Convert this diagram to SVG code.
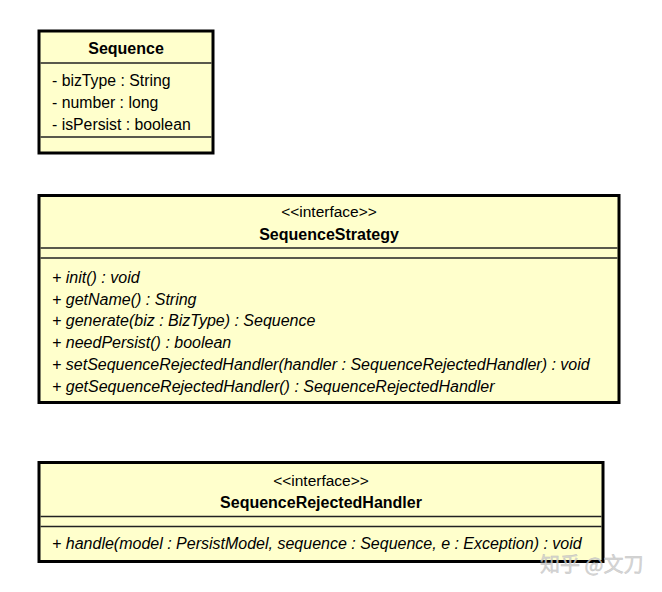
<svg xmlns="http://www.w3.org/2000/svg" width="662" height="592" viewBox="0 0 662 592">
<style>
.box{fill:#FFFFCC;stroke:#000;stroke-width:3}
.div{stroke:#222;stroke-width:1.3}
text{font-family:"Liberation Sans",Arial,sans-serif;fill:#000}
.title{font-size:16px;font-weight:bold;text-anchor:middle}
.stereo{font-size:15.5px;text-anchor:middle}
.attr{font-size:15.8px}
.op{font-size:16px;font-style:italic}
.wm{font-family:"Noto Sans CJK SC","Liberation Sans",sans-serif;font-size:20px;fill:#d0d0d0;stroke:#b8b8b8;stroke-width:0.4;opacity:0.85}
</style>
<rect width="662" height="592" fill="#fff"/>
<g id="Sequence">
<rect class="box" x="39" y="31" width="174" height="122"/>
<line class="div" x1="40.5" y1="63" x2="211.5" y2="63"/>
<line class="div" x1="40.5" y1="137" x2="211.5" y2="137"/>
<text class="title" x="126" y="54">Sequence</text>
<text class="attr" x="52" y="86">- bizType : String</text>
<text class="attr" x="52" y="108">- number : long</text>
<text class="attr" x="52" y="130">- isPersist : boolean</text>
</g>
<g id="SequenceStrategy">
<rect class="box" x="39" y="195.5" width="580" height="207"/>
<line class="div" x1="40.5" y1="248" x2="617.5" y2="248"/>
<line class="div" x1="40.5" y1="258" x2="617.5" y2="258"/>
<text class="stereo" x="329" y="217">&lt;&lt;interface&gt;&gt;</text>
<text class="title" x="329" y="240">SequenceStrategy</text>
<text class="op" x="52" y="282.5">+ init() : void</text>
<text class="op" x="52" y="304.5">+ getName() : String</text>
<text class="op" x="52" y="326.3">+ generate(biz : BizType) : Sequence</text>
<text class="op" x="52" y="347.9">+ needPersist() : boolean</text>
<text class="op" x="52" y="369.7">+ setSequenceRejectedHandler(handler : SequenceRejectedHandler) : void</text>
<text class="op" x="52" y="391.5">+ getSequenceRejectedHandler() : SequenceRejectedHandler</text>
</g>
<g id="SequenceRejectedHandler">
<rect class="box" x="39" y="462.5" width="564" height="99"/>
<line class="div" x1="40.5" y1="516.5" x2="601.5" y2="516.5"/>
<line class="div" x1="40.5" y1="526.5" x2="601.5" y2="526.5"/>
<text class="stereo" x="321" y="485.5">&lt;&lt;interface&gt;&gt;</text>
<text class="title" x="321" y="507.5">SequenceRejectedHandler</text>
<text class="op" x="52" y="548.5">+ handle(model : PersistModel, sequence : Sequence, e : Exception) : void</text>
</g>
<g id="connectors"></g>
<text class="wm" x="540" y="572">知乎 @文刀</text>
</svg>
